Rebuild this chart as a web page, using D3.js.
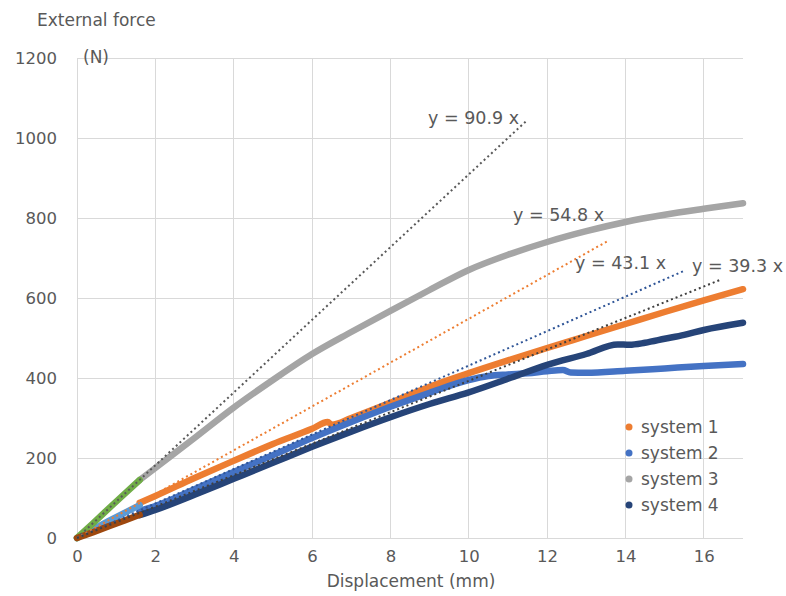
<!DOCTYPE html>
<html>
<head>
<meta charset="utf-8">
<script src="https://cdn.jsdelivr.net/npm/d3@7"></script>
<style>
  html, body { margin: 0; padding: 0; background: #fff; }
  svg { display: block; font-family: "DejaVu Sans", Verdana, sans-serif; }
</style>
</head>
<body>
<svg id="chart" width="786" height="596"></svg>
<script>
// ---- data ----
const xTicks = [0, 2, 4, 6, 8, 10, 12, 14, 16];
const yTicks = [0, 200, 400, 600, 800, 1000, 1200];

const seriesNames = ["system 1", "system 2", "system 3", "system 4"];
const seriesColors = ["#ED7D31", "#4472C4", "#A5A5A5", "#264478"];

const system1 = [[1.6, 88], [2, 105], [3, 150], [4, 193], [5, 235], [6, 273], [6.4, 290], [6.5, 283], [7, 300], [8, 338], [9, 378], [10, 412], [11, 444], [12, 475], [13, 505], [14, 535], [15, 565], [16, 594], [17, 622]];
const system2 = [[1.6, 68], [2, 80], [3, 122], [4, 165], [5, 207], [6, 250], [7, 290], [8, 328], [9, 363], [10, 395], [10.5, 405], [11, 409], [11.5, 412], [12, 417], [12.4, 420], [12.6, 414], [13, 413], [14, 418], [15, 424], [16, 430], [17, 435]];
const system3 = [[1.6, 145], [2, 175], [3, 250], [4, 326], [5, 395], [6, 460], [7, 515], [8, 568], [9, 620], [10, 670], [11, 708], [12, 740], [13, 767], [14, 790], [15, 808], [16, 823], [17, 837]];
const system4 = [[1.6, 57], [2, 70], [3, 108], [4, 148], [5, 188], [6, 228], [7, 266], [8, 302], [9, 335], [10, 364], [11, 398], [12, 433], [13, 460], [13.8, 484], [14.1, 483], [14.5, 488], [15, 498], [15.5, 508], [16, 520], [17, 538]];

// initial portions used for the linear fits
const initialNames = ["initial 1", "initial 3", "initial 4"];
const initialColors = ["#5B9BD5", "#70AD47", "#9E480E"];
const initial1 = [[0, 0], [0.4, 21], [0.8, 42], [1.2, 62], [1.6, 82]];
const initial3 = [[0, 0], [0.4, 36], [0.8, 73], [1.2, 109], [1.6, 145]];
const initial4 = [[0, 0], [0.4, 14], [0.8, 29], [1.2, 43], [1.6, 58]];

// trendlines y = a x, drawn from 0 to an end x
const trendSlopes = [90.9, 54.8, 43.1, 39.3];
const trendEndX = [11.5, 13.55, 15.48, 16.42];
const trendColors = ["#595959", "#ED7D31", "#2F5597", "#404040"];
const trendLabels = ["y = 90.9 x", "y = 54.8 x", "y = 43.1 x", "y = 39.3 x"];

// ---- layout ----
const svg = d3.select("#chart");
const m = { left: 77, top: 58, right: 743, bottom: 538 };

const x = d3.scaleLinear().domain([0, 17]).range([m.left, m.right]);
const y = d3.scaleLinear().domain([0, 1200]).range([m.bottom, m.top]);

const gridColor = "#D9D9D9";
const textColor = "#595959";

// gridlines
svg.append("g").selectAll("line.h").data(yTicks).join("line")
  .attr("x1", m.left).attr("x2", m.right)
  .attr("y1", d => y(d)).attr("y2", d => y(d))
  .attr("stroke", gridColor).attr("stroke-width", 1).attr("shape-rendering", "crispEdges");
svg.append("g").selectAll("line.v").data(xTicks).join("line")
  .attr("x1", d => x(d)).attr("x2", d => x(d))
  .attr("y1", m.top).attr("y2", m.bottom)
  .attr("stroke", gridColor).attr("stroke-width", 1).attr("shape-rendering", "crispEdges");

// axes (labels only, via d3 axes)
const xAxis = d3.axisBottom(x).tickValues(xTicks).tickFormat(d3.format("d")).tickSize(0).tickPadding(12);
const gx = svg.append("g").attr("transform", `translate(0,${m.bottom})`).call(xAxis);
gx.select(".domain").remove();
gx.selectAll("text").attr("fill", textColor).style("font-size", "16.5px").style("font-family", "DejaVu Sans, sans-serif");

const yAxis = d3.axisLeft(y).tickValues(yTicks).tickFormat(d3.format("d")).tickSize(0).tickPadding(20);
const gy = svg.append("g").attr("transform", `translate(${m.left},0)`).call(yAxis);
gy.select(".domain").remove();
gy.selectAll("text").attr("fill", textColor).style("font-size", "16.5px").style("font-family", "DejaVu Sans, sans-serif");

// series lines
const line = d3.line().x(d => x(d[0])).y(d => y(d[1])).curve(d3.curveMonotoneX);
const straight = d3.line().x(d => x(d[0])).y(d => y(d[1]));
const allSeries = [system1, system2, system3, system4];
allSeries.forEach((s, i) => {
  svg.append("path").datum(s).attr("d", line)
    .attr("fill", "none").attr("stroke", seriesColors[i])
    .attr("stroke-width", 6.5).attr("stroke-linejoin", "round").attr("stroke-linecap", "round");
});
const initials = [initial1, initial3, initial4];
initials.forEach((s, i) => {
  svg.append("path").datum(s).attr("d", straight)
    .attr("fill", "none").attr("stroke", initialColors[i])
    .attr("stroke-width", 6.5).attr("stroke-linejoin", "round").attr("stroke-linecap", "round");
});

// trendlines
trendSlopes.forEach((a, i) => {
  const pts = [[0, 0], [trendEndX[i], a * trendEndX[i]]];
  svg.append("path").datum(pts).attr("d", straight)
    .attr("fill", "none").attr("stroke", trendColors[i])
    .attr("stroke-width", 2).attr("stroke-dasharray", "2,3");
});

// trendline labels
const labelPos = [[428, 124], [513, 221], [575, 269], [692, 272]];
trendLabels.forEach((t, i) => {
  svg.append("text").attr("x", labelPos[i][0]).attr("y", labelPos[i][1])
    .attr("fill", textColor).style("font-size", "17.5px").text(t);
});

// axis titles
svg.append("text").attr("x", 37).attr("y", 26).attr("fill", textColor)
  .style("font-size", "17px").text("External force");
svg.append("text").attr("x", 83).attr("y", 63).attr("fill", textColor)
  .style("font-size", "17px").text("(N)");
svg.append("text").attr("x", 411).attr("y", 587).attr("fill", textColor)
  .attr("text-anchor", "middle").style("font-size", "17px").text("Displacement (mm)");

// legend
const lg = svg.append("g");
seriesNames.forEach((n, i) => {
  const yy = 427 + i * 26;
  lg.append("circle").attr("cx", 629).attr("cy", yy).attr("r", 3.5).attr("fill", seriesColors[i]);
  lg.append("text").attr("x", 641).attr("y", yy + 6).attr("fill", textColor)
    .style("font-size", "17px").text(n);
});
</script>
</body>
</html>
